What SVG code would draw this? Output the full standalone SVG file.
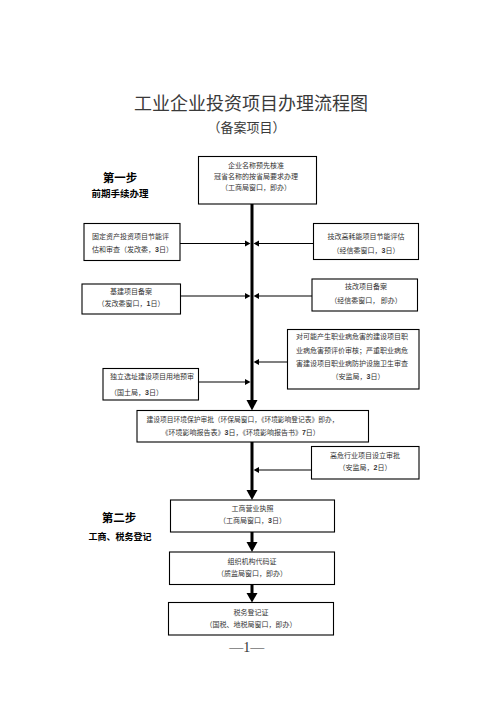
<svg xmlns="http://www.w3.org/2000/svg" width="496" height="702" viewBox="0 0 496 702">
<style>
text{font-family:"Noto Sans CJK SC","Liberation Serif",serif;fill:#333;dominant-baseline:central}
.t{font-size:7px}
.c{text-anchor:middle}
.b{font-weight:bold;fill:#000}
.box{fill:#fff;stroke:#000;stroke-width:1.1}
.thin{stroke:#000;stroke-width:1.2;fill:none}
.thick{stroke:#000;stroke-width:3;fill:none}
.num{font-family:"Liberation Sans",sans-serif;font-weight:bold}
</style>
<rect width="496" height="702" fill="#fff"/>
<g id="title">
<text x="251" y="101.5" class="c" style="font-size:18px;fill:#3a3a3a">工业企业投资项目办理流程图</text>
<text x="246.5" y="126.7" class="c" style="font-size:13px;fill:#3a3a3a">（备案项目）</text>
</g>
<g id="step1">
<text x="120" y="176.7" class="c b" style="font-size:11.5px">第一步</text>
<text x="120" y="193" class="c b" style="font-size:9.5px">前期手续办理</text>
</g>
<g id="step2">
<text x="119" y="517" class="c b" style="font-size:11.5px">第二步</text>
<text x="120" y="536.7" class="c b" style="font-size:9px">工商、税务登记</text>
</g>
<g id="connectors">
<path class="thick" d="M252 204V401M252 442V491M252 532V543M252 584.5V593.5"/>
<polygon points="246.5,400 257.5,400 252,410.5"/>
<polygon points="246.5,490 257.5,490 252,500"/>
<polygon points="246.5,542 257.5,542 252,552"/>
<polygon points="246.5,593 257.5,593 252,602.5"/>
<path class="thin" d="M180 243.5H246M313.5 243.5H258M180.5 296H246M312 296H258M287.5 362H258M198.5 382H246M311.5 470H258"/>
<g id="heads">
<polygon points="245,240.5 250.5,243.5 245,246.5"/>
<polygon points="259,240.5 253.5,243.5 259,246.5"/>
<polygon points="245,293 250.5,296 245,299"/>
<polygon points="259,293 253.5,296 259,299"/>
<polygon points="259,359 253.5,362 259,365"/>
<polygon points="245,379 250.5,382 245,385"/>
<polygon points="259,467 253.5,470 259,473"/>
</g>
</g>
<g id="n1">
<rect class="box" x="198.5" y="156.5" width="118" height="47.5"/>
<text class="t c" x="256" y="164.5">企业名称预先核准</text>
<text class="t c" x="256" y="175.5">冠省名称的按省局要求办理</text>
<text class="t c" x="256" y="186.5">（工商局窗口，即办）</text>
</g>
<g id="left1">
<rect class="box" x="84" y="223.5" width="96" height="37"/>
<text class="t" x="92" y="236">固定资产投资项目节能评</text>
<text class="t" x="92" y="248.5">估和审查（发改委，<tspan class="num">3</tspan>日）</text>
</g>
<g id="right1">
<rect class="box" x="313.5" y="223.5" width="105" height="36"/>
<text class="t c" x="366" y="235.5">技改高耗能项目节能评估</text>
<text class="t c" x="366" y="249.5">（经信委窗口，<tspan class="num">3</tspan>日）</text>
</g>
<g id="left2">
<rect class="box" x="82" y="284" width="98.5" height="30"/>
<text class="t c" x="131" y="291">基建项目备案</text>
<text class="t c" x="131" y="302.5">（发改委窗口，<tspan class="num">1</tspan>日）</text>
</g>
<g id="right2">
<rect class="box" x="312" y="279" width="105.5" height="32"/>
<text class="t c" x="366" y="285.5">技改项目备案</text>
<text class="t c" x="366" y="300">（经信委窗口， 即办）</text>
</g>
<g id="right3">
<rect class="box" x="287.5" y="329.5" width="131.5" height="59.5"/>
<text class="t" x="296" y="336">对可能产生职业病危害的建设项目职</text>
<text class="t" x="296" y="349.5">业病危害预评价审核；严重职业病危</text>
<text class="t" x="296" y="362.5">害建设项目职业病防护设施卫生审查</text>
<text class="t c" x="358" y="376">（安监局，<tspan class="num">3</tspan>日）</text>
</g>
<g id="left3">
<rect class="box" x="103" y="368.5" width="95.5" height="31.5"/>
<text class="t" x="110" y="376">独立选址建设项目用地预审</text>
<text class="t" x="110" y="392">（国土局，<tspan class="num">3</tspan>日）</text>
</g>
<g id="env">
<rect class="box" x="137" y="410.5" width="231.5" height="31.5"/>
<text class="t" x="146.5" y="419" textLength="192" lengthAdjust="spacingAndGlyphs">建设项目环境保护审批（环保局窗口，《环境影响登记表》即办，</text>
<text class="t" x="161.5" y="431.5">《环境影响报告表》<tspan class="num">3</tspan>日，《环境影响报告书》<tspan class="num">7</tspan>日）</text>
</g>
<g id="right4">
<rect class="box" x="311.5" y="446.5" width="107.5" height="32.5"/>
<text class="t c" x="365" y="455">高危行业项目设立审批</text>
<text class="t c" x="365" y="467">（安监局，<tspan class="num">2</tspan>日）</text>
</g>
<g id="gs">
<rect class="box" x="170.5" y="500" width="164" height="32"/>
<text class="t c" x="252.5" y="508">工商营业执照</text>
<text class="t c" x="252.5" y="520">（工商局窗口，<tspan class="num">3</tspan>日）</text>
</g>
<g id="org">
<rect class="box" x="169.5" y="552" width="165" height="32.5"/>
<text class="t c" x="252" y="561">组织机构代码证</text>
<text class="t c" x="252" y="572.5">（质监局窗口，即办）</text>
</g>
<g id="tax">
<rect class="box" x="168.5" y="602.5" width="165" height="32.5"/>
<text class="t c" x="251" y="611.5">税务登记证</text>
<text class="t c" x="251" y="623.5">（国税、地税局窗口，即办）</text>
</g>
<g id="page">
<text x="246.7" y="647" class="c" style="font-family:'Liberation Serif',serif;font-size:14px;fill:#333">—1—</text>
</g>
</svg>
